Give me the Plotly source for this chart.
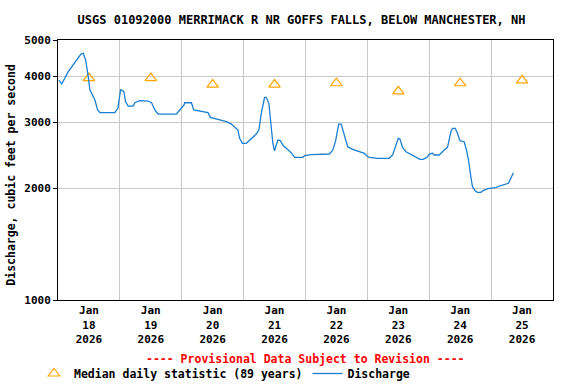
import pandas as pd
import plotly.graph_objects as go

# ---- data ----
start = "2026-01-18 00:00"
hours = [0.39, 1.43, 3.99, 6.58, 8.9, 9.79, 10.72, 11.73, 12.39, 14.32, 15.37, 16.26,
         22.06, 23.23, 24.27, 24.66, 25.55, 26.21, 27.21, 29.15, 29.81, 31.74, 34.95,
         36.27, 37.55, 38.83, 45.95, 47.23, 48.89, 49.16, 51.76, 52.65, 55.63, 58.18,
         59.11, 62.05, 65.30, 67.24, 68.52, 69.79, 70.45, 71.50, 73.05, 74.98, 76.92,
         77.92, 78.85, 80.13, 80.79, 81.79, 82.72, 83.34, 84.00, 85.28, 86.21, 87.48,
         88.53, 90.46, 91.74, 94.95, 95.61, 98.21, 105.29, 106.57, 107.61, 108.50,
         108.89, 109.82, 110.44, 111.48, 112.37, 114.31, 116.25, 118.84, 120.12, 120.77,
         123.99, 128.52, 129.79, 131.11, 132.00, 132.66, 133.66, 134.98, 137.54, 139.47,
         140.40, 141.68, 143.34, 144.00, 145.28, 145.94, 147.87, 149.81, 151.08, 152.40,
         153.02, 154.06, 154.95, 155.88, 157.55, 158.44, 159.21, 160.14, 160.76, 161.81,
         162.70, 164.01, 165.29, 167.23, 169.82, 171.10, 173.69, 174.70, 175.63, 176.63]
discharge = [3903, 3808, 4109, 4369, 4584, 4605, 4418, 3984, 3669, 3449, 3242, 3188,
             3188, 3281, 3669, 3669, 3631, 3413, 3322, 3322, 3391, 3434, 3427,
             3391, 3242, 3162, 3162, 3242, 3343, 3391, 3391, 3242, 3208, 3188,
             3098, 3060, 3015, 2972, 2923, 2864, 2721, 2638, 2638, 2721, 2794,
             2864, 3176, 3507, 3507, 3379, 2923, 2638, 2519, 2692, 2681, 2594,
             2557, 2489, 2419, 2419, 2443, 2458, 2469, 2530, 2664, 2923,
             2972, 2972, 2864, 2692, 2583, 2541, 2519, 2480, 2428, 2419,
             2404, 2404, 2454, 2610, 2721, 2704, 2573, 2504, 2454, 2419,
             2389, 2389, 2428, 2469, 2480, 2454, 2454, 2530, 2573, 2834,
             2894, 2894, 2806, 2681, 2664, 2530, 2379, 2145, 2016, 1967,
             1948, 1948, 1975, 1997, 2004, 2025, 2050, 2059, 2124, 2199]

median_dates = ["2026-01-18 12:00", "2026-01-19 12:00", "2026-01-20 12:00", "2026-01-21 12:00",
                "2026-01-22 12:00", "2026-01-23 12:00", "2026-01-24 12:00", "2026-01-25 12:00"]
median_values = [3950, 3950, 3795, 3795, 3826, 3639, 3826, 3896]

x_tick_labels = ["Jan<br>18<br>2026", "Jan<br>19<br>2026", "Jan<br>20<br>2026", "Jan<br>21<br>2026",
                 "Jan<br>22<br>2026", "Jan<br>23<br>2026", "Jan<br>24<br>2026", "Jan<br>25<br>2026"]
y_tick_vals = [1000, 2000, 3000, 4000, 5000]
y_tick_labels = ["1000", "2000", "3000", "4000", "5000"]

times = pd.Timestamp(start) + pd.to_timedelta(hours, unit="h")

FONT = "DejaVu Sans Mono"

fig = go.Figure()
fig.add_trace(go.Scatter(
    x=median_dates, y=median_values, mode="markers",
    name="Median daily statistic (89 years)",
    marker=dict(symbol="triangle-up-open", size=10, color="#FFA500",
                line=dict(color="#FFA500", width=1.2)),
))
fig.add_trace(go.Scatter(
    x=times, y=discharge, mode="lines", name="Discharge",
    line=dict(color="#1a7fd2", width=1.3),
))

fig.update_layout(
    width=576, height=384,
    margin=dict(l=58, r=23, t=40, b=84),
    paper_bgcolor="white", plot_bgcolor="white",
    font=dict(family=FONT, size=11, color="black", weight="bold"),
    title=dict(text="USGS 01092000 MERRIMACK R NR GOFFS FALLS, BELOW MANCHESTER, NH",
               font=dict(family=FONT, size=12, color="black", weight="bold"),
               x=0.492, xref="paper", xanchor="center",
               y=1 - 20 / 384, yref="container", yanchor="middle"),
    showlegend=True,
    legend=dict(orientation="h", xref="container", yref="container",
                x=34 / 576, y=1 - 359 / 384, xanchor="left", yanchor="top",
                font=dict(family=FONT, size=11.5, color="black", weight="bold"),
                bgcolor="rgba(0,0,0,0)", itemwidth=30, tracegroupgap=0),
    annotations=[
        dict(text="---- Provisional Data Subject to Revision ----",
             xref="paper", yref="paper", x=0.5, y=(300 - 359) / 260,
             xanchor="center", yanchor="middle", showarrow=False,
             font=dict(family=FONT, size=11.5, color="red", weight="bold")),
        dict(text="Discharge, cubic feet per second",
             xref="paper", yref="paper", x=(11 - 58) / 495, y=(300 - 174.7) / 260,
             xanchor="center", yanchor="middle", textangle=-90, showarrow=False,
             font=dict(family=FONT, size=11.5, color="black", weight="bold")),
    ],
)

fig.update_xaxes(
    range=["2026-01-18 00:00", "2026-01-26 00:00"],
    tickmode="array", tickvals=median_dates, ticktext=x_tick_labels,
    ticks="", showgrid=False, zeroline=False,
    showline=True, linecolor="black", linewidth=1, mirror=True,
    tickfont=dict(family=FONT, size=11, color="black", weight="bold"),
    minor=dict(tick0="2026-01-18", dtick=86400000, showgrid=True,
               gridcolor="#c8c8c8", gridwidth=1, ticks=""),
)
fig.update_yaxes(
    type="log", range=[3, 3.69897],
    tickmode="array", tickvals=y_tick_vals, ticktext=y_tick_labels,
    ticks="outside", ticklen=4, tickcolor="black",
    showgrid=True, gridcolor="#c8c8c8", gridwidth=1, zeroline=False,
    showline=True, linecolor="black", linewidth=1, mirror=True,
    tickfont=dict(family=FONT, size=11, color="black", weight="bold"),
)

fig.write_html("out.html", config={"displayModeBar": False},
               post_script="document.body.style.margin='0';document.body.style.padding='0';")
